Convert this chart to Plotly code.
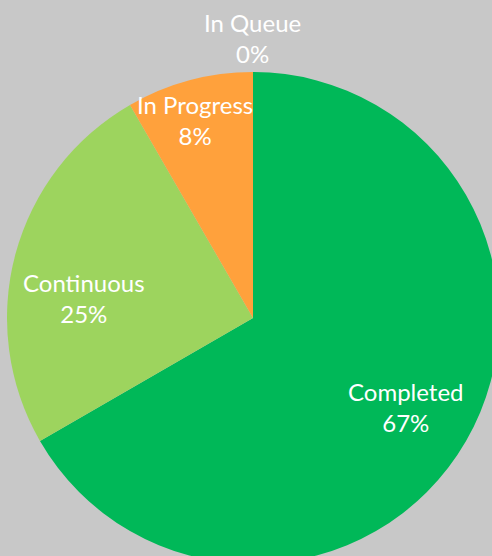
import math
import plotly.graph_objects as go

labels = ["Completed", "Continuous", "In Progress", "In Queue"]
values = [8, 3, 1, 0]
colors = ["#00B858", "#9DD45E", "#FFA13C", "#5B9BD5"]

# label placement style (fraction of radius, angle tweak in degrees)
label_r = [0.72, 0.69, 0.84, 1.14]
label_da = [0.0, -8.1, -1.4, 0.0]

total = sum(values)
pct = [round(100 * v / total) for v in values]
texts = [f"{l}<br>{p}%" for l, p in zip(labels, pct)]

W, H = 506, 636
CX, CY, R = 253, 318, 246  # pixel geometry of the pie
FONT = dict(family="Lato, Open Sans, sans-serif", size=24, color="white")

fig = go.Figure(go.Pie(
    labels=labels,
    values=values,
    textinfo="none",
    sort=False,
    direction="clockwise",
    rotation=0,
    marker=dict(colors=colors, line=dict(width=0)),
    hoverinfo="label+percent",
    domain=dict(x=[(CX - R) / W, (CX + R) / W], y=[1 - (CY + R) / H, 1 - (CY - R) / H]),
    showlegend=False,
))

cum = 0
for v, t, rf, da in zip(values, texts, label_r, label_da):
    mid = (cum + v / 2) / total * 360 + da
    cum += v
    a = math.radians(mid)
    px = CX + rf * R * math.sin(a)
    py = CY - rf * R * math.cos(a)
    fig.add_annotation(
        x=px / W, y=1 - py / H, xref="paper", yref="paper",
        xanchor="center", yanchor="middle",
        text=t, showarrow=False, font=FONT,
    )

fig.update_layout(
    width=W, height=H,
    margin=dict(l=0, r=0, t=0, b=0),
    paper_bgcolor="#C8C8C8",
    plot_bgcolor="#C8C8C8",
)
fig.write_html(
    "out.html",
    config={"displayModeBar": False},
    post_script="document.documentElement.style.margin='0';document.body.style.margin='0';"
                "document.body.style.overflow='hidden';document.documentElement.style.overflow='hidden';"
                "document.body.style.background='#C8C8C8';",
)
